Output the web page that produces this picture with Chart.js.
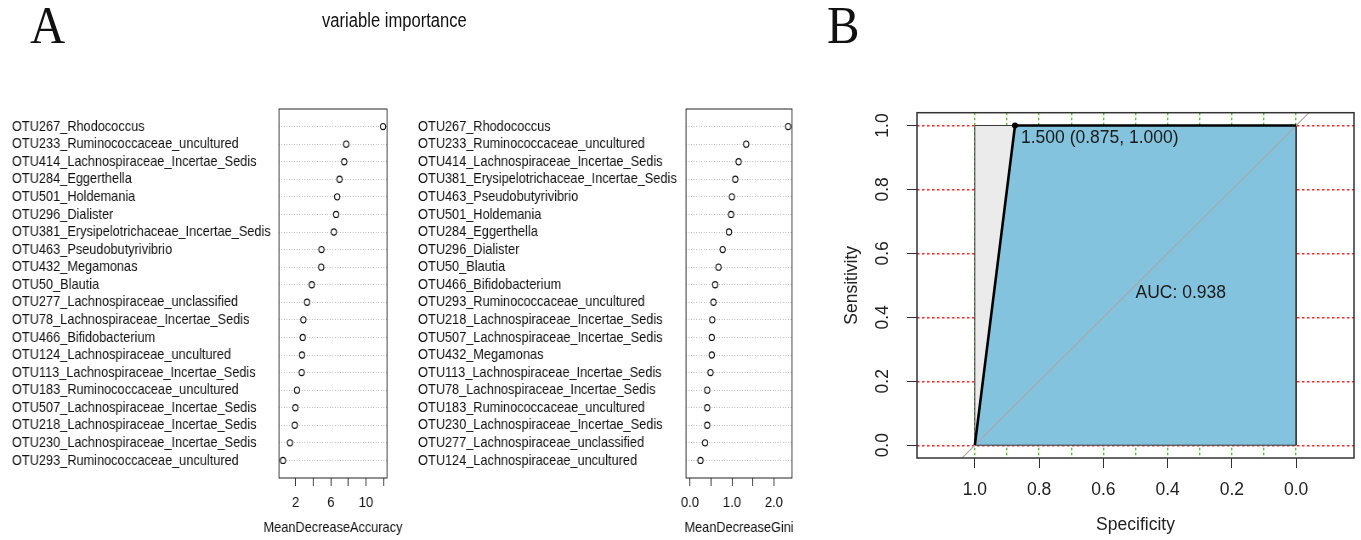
<!DOCTYPE html>
<html><head><meta charset="utf-8">
<script src="https://cdn.jsdelivr.net/npm/chart.js@4.4.0/dist/chart.umd.min.js"></script>
<style>
html,body{margin:0;padding:0;background:#fff;width:1361px;height:540px;overflow:hidden;position:relative;}
.abs{position:absolute;}
#panelA{position:absolute;left:0;top:0;width:960px;height:540px;transform:scaleX(0.85);transform-origin:0 0;}
#c1{left:0;top:60px;}
#c2{left:470px;top:60px;}
#c3{left:830px;top:60px;}
#title{left:0;width:928px;top:9px;line-height:22px;text-align:center;font-size:19.5px;font-family:"Liberation Sans",Arial,sans-serif;color:#111;}
.letter{top:-1px;font-size:53px;line-height:52px;font-family:"Liberation Serif","Times New Roman",serif;color:#111;transform:scaleX(0.92);transform-origin:0 0;}
#letterA{left:30px;}
#letterB{left:827px;}
</style></head><body>
<div class="abs letter" id="letterA">A</div>
<div class="abs letter" id="letterB">B</div>
<div id="panelA">
  <div class="abs" id="title">variable importance</div>
  <canvas class="abs" id="c1" width="500" height="480"></canvas>
  <canvas class="abs" id="c2" width="490" height="480"></canvas>
</div>
<canvas class="abs" id="c3" width="531" height="480"></canvas>
<script>
// ---------------- data ----------------
const accLabels = [
  "OTU267_Rhodococcus","OTU233_Ruminococcaceae_uncultured","OTU414_Lachnospiraceae_Incertae_Sedis",
  "OTU284_Eggerthella","OTU501_Holdemania","OTU296_Dialister","OTU381_Erysipelotrichaceae_Incertae_Sedis",
  "OTU463_Pseudobutyrivibrio","OTU432_Megamonas","OTU50_Blautia","OTU277_Lachnospiraceae_unclassified",
  "OTU78_Lachnospiraceae_Incertae_Sedis","OTU466_Bifidobacterium","OTU124_Lachnospiraceae_uncultured",
  "OTU113_Lachnospiraceae_Incertae_Sedis","OTU183_Ruminococcaceae_uncultured","OTU507_Lachnospiraceae_Incertae_Sedis",
  "OTU218_Lachnospiraceae_Incertae_Sedis","OTU230_Lachnospiraceae_Incertae_Sedis","OTU293_Ruminococcaceae_uncultured"
];
const accValues = [11.94,7.75,7.52,6.99,6.72,6.60,6.34,4.93,4.90,3.83,3.29,2.87,2.80,2.72,2.68,2.15,1.96,1.89,1.35,0.55];
const accTicks = [2,4,6,8,10,12];
const accTickLabels = [2,6,10];

const giniLabels = [
  "OTU267_Rhodococcus","OTU233_Ruminococcaceae_uncultured","OTU414_Lachnospiraceae_Incertae_Sedis",
  "OTU381_Erysipelotrichaceae_Incertae_Sedis","OTU463_Pseudobutyrivibrio","OTU501_Holdemania","OTU284_Eggerthella",
  "OTU296_Dialister","OTU50_Blautia","OTU466_Bifidobacterium","OTU293_Ruminococcaceae_uncultured",
  "OTU218_Lachnospiraceae_Incertae_Sedis","OTU507_Lachnospiraceae_Incertae_Sedis","OTU432_Megamonas",
  "OTU113_Lachnospiraceae_Incertae_Sedis","OTU78_Lachnospiraceae_Incertae_Sedis","OTU183_Ruminococcaceae_uncultured",
  "OTU230_Lachnospiraceae_Incertae_Sedis","OTU277_Lachnospiraceae_unclassified","OTU124_Lachnospiraceae_uncultured"
];
const giniValues = [2.34,1.34,1.16,1.08,1.00,0.98,0.93,0.78,0.68,0.60,0.56,0.53,0.52,0.52,0.49,0.41,0.41,0.41,0.36,0.25];
const giniTicks = [0,0.5,1,1.5,2];
const giniTickLabels = [0,1,2];

const rocSpec = [1, 0.875, 0];
const rocSens = [0, 1, 1];
const thrIndex = 1;
const maxAucSpec = [1, 1, 0, 0];
const maxAucSens = [0, 1, 1, 0];
const chanceSpec = [1.2, -0.2];
const chanceSens = [-0.2, 1.2];
const specGrid = [1, 0.9, 0.8, 0.7, 0.6, 0.5, 0.4, 0.3, 0.2, 0.1, 0];
const specTicks = [1, 0.8, 0.6, 0.4, 0.2, 0];
const sensTicks = [0, 0.2, 0.4, 0.6, 0.8, 1];
const thresholdLabel = "1.500 (0.875, 1.000)";
const aucLabel = "AUC: 0.938";
const aucPos = [0.5, 0.5];

// ---------------- helpers ----------------
const FONT = '"Liberation Sans", Arial, sans-serif';
Chart.defaults.font.family = FONT;
const inList = (list, v) => list.some(t => Math.abs(t - v) < 1e-9);
const frame = (color, w) => ({
  id: 'frame',
  afterDraw(chart) {
    const a = chart.chartArea, c = chart.ctx;
    c.save(); c.strokeStyle = color; c.lineWidth = w;
    c.strokeRect(a.left, a.top, a.right - a.left, a.bottom - a.top);
    c.restore();
  }
});
const xTitle = (text) => ({
  id: 'xTitle',
  afterDraw(chart) {
    const a = chart.chartArea, c = chart.ctx;
    c.save(); c.font = '15px ' + FONT; c.fillStyle = '#111';
    c.textAlign = 'center'; c.textBaseline = 'middle';
    c.fillText(text, (a.left + a.right) / 2, chart.height - 12);
    c.restore();
  }
});
function rRange(vals, lo) {
  const mn = (lo === undefined) ? Math.min(...vals) : lo;
  const mx = Math.max(...vals);
  const d = (mx - mn) * 0.04;
  return [mn - d, mx + d];
}

function dotChart(id, labels, values, range, ticks, tickLabels, fmt, title, padLeft, yWidth, padRight) {
  const data = values.map((v, i) => ({x: v, y: i + 1}));
  return new Chart(document.getElementById(id), {
    type: 'scatter',
    data: {datasets: [{data, pointStyle: 'circle', pointRadius: 3.1, pointBorderWidth: 1.15,
      pointBorderColor: '#111', pointBackgroundColor: '#fff', showLine: false}]},
    options: {
      responsive: false, animation: false, events: [],
      layout: {padding: {left: padLeft, right: padRight, top: 49, bottom: 0}},
      plugins: {legend: {display: false}, tooltip: {enabled: false}, title: {display: false}},
      scales: {
        x: {type: 'linear', min: range[0], max: range[1],
          afterBuildTicks: s => { s.ticks = ticks.map(v => ({value: v})); },
          afterFit: s => { s.height = 62; },
          grid: {drawOnChartArea: false, drawTicks: true, tickLength: 8, tickColor: '#222', tickWidth: 1},
          border: {display: false},
          ticks: {autoSkip: false, maxRotation: 0, minRotation: 0, padding: 7, color: '#111',
            font: {family: FONT, size: 15.5}, callback: v => inList(tickLabels, v) ? fmt(v) : ''}
        },
        y: {type: 'linear', min: 0, max: labels.length + 1, reverse: true,
          afterBuildTicks: s => { s.ticks = labels.map((_, i) => ({value: i + 1})); },
          afterFit: s => { s.width = yWidth; },
          grid: {color: '#b5b5b5', lineWidth: 1, drawTicks: false},
          border: {display: false, dash: [1, 2]},
          ticks: {autoSkip: false, crossAlign: 'far', color: '#111', font: {family: FONT, size: 15},
            callback: v => labels[Math.round(v) - 1]}
        }
      }
    },
    plugins: [frame('#222', 1), xTitle(title)]
  });
}

dotChart('c1', accLabels, accValues, rRange(accValues), accTicks, accTickLabels, v => String(v),
  'MeanDecreaseAccuracy', 14.1, 314.1, 44.7);
dotChart('c2', giniLabels, giniValues, rRange(giniValues, 0), giniTicks, giniTickLabels, v => v.toFixed(1),
  'MeanDecreaseGini', 21.8, 315.3, 28.2);

// ---------------- ROC ----------------
const pts = (xs, ys) => xs.map((x, i) => ({x, y: ys[i]}));
const closed = arr => arr.concat([arr[0]]);
const rocText = {
  id: 'rocText',
  afterDatasetsDraw(chart) {
    const {ctx, scales: {x, y}} = chart;
    ctx.save();
    ctx.font = '17.5px ' + FONT;
    ctx.fillStyle = '#1a1a1a';
    ctx.textAlign = 'left';
    ctx.textBaseline = 'middle';
    const px = x.getPixelForValue(rocSpec[thrIndex]), py = y.getPixelForValue(rocSens[thrIndex]);
    ctx.fillText(thresholdLabel, px + 6, py + 13);
    ctx.fillText(aucLabel, x.getPixelForValue(aucPos[0]), y.getPixelForValue(aucPos[1]) + 8);
    ctx.restore();
  }
};
const X_RANGE = {min: -0.18, max: 1.18};
const Y_RANGE = {min: -0.04, max: 1.04};
new Chart(document.getElementById('c3'), {
  type: 'line',
  data: {datasets: [
    {data: pts(rocSpec, rocSens), borderColor: '#000', borderWidth: 2.6, tension: 0, fill: false,
      pointRadius: c => c.dataIndex === thrIndex ? 3 : 0, pointBackgroundColor: '#000', pointBorderColor: '#000', pointBorderWidth: 0},
    {data: pts(chanceSpec, chanceSens), borderColor: '#a8a8a8', borderWidth: 1.1, pointRadius: 0, fill: false},
    {data: closed(pts(maxAucSpec, maxAucSens)), borderColor: '#3a3a3a', borderWidth: 1, pointRadius: 0, fill: false},
    {data: pts(rocSpec, rocSens), borderWidth: 0, borderColor: 'rgba(0,0,0,0)', pointRadius: 0, fill: 'origin', backgroundColor: '#84C3DD'},
    {data: pts(maxAucSpec, maxAucSens), borderWidth: 0, borderColor: 'rgba(0,0,0,0)', pointRadius: 0, fill: 'origin', backgroundColor: '#EBEBEB'}
  ]},
  options: {
    responsive: false, animation: false, events: [],
    layout: {padding: {left: 0, right: 7, top: 52.7, bottom: 0}},
    plugins: {legend: {display: false}, tooltip: {enabled: false}},
    scales: {
      xg: {type: 'linear', position: 'bottom', reverse: true, ...X_RANGE,
        afterBuildTicks: s => { s.ticks = specGrid.map(v => ({value: v})); },
        afterFit: s => { s.height = 0; },
        grid: {color: '#5fbf30', lineWidth: 1.4, drawTicks: false, drawOnChartArea: true},
        border: {display: false, dash: [2.5, 2.5]},
        ticks: {display: false}
      },
      yg: {type: 'linear', position: 'left', ...Y_RANGE,
        afterBuildTicks: s => { s.ticks = sensTicks.map(v => ({value: v})); },
        afterFit: s => { s.width = 0; },
        grid: {color: '#ff2a2a', lineWidth: 1.4, drawTicks: false, drawOnChartArea: true},
        border: {display: false, dash: [2.5, 2.5]},
        ticks: {display: false}
      },
      x: {type: 'linear', position: 'bottom', reverse: true, ...X_RANGE,
        afterBuildTicks: s => { s.ticks = specTicks.map(v => ({value: v})); },
        afterFit: s => { s.height = 82; },
        grid: {drawOnChartArea: false, drawTicks: true, tickLength: 10, tickWidth: 1, tickColor: '#333'},
        border: {display: false},
        ticks: {autoSkip: false, maxRotation: 0, minRotation: 0, padding: 12, color: '#222',
          font: {family: FONT, size: 17.5}, callback: v => v.toFixed(1)},
        title: {display: true, text: 'Specificity', color: '#222', font: {family: FONT, size: 17.5}, padding: {top: 0, bottom: 4.5}}
      },
      y: {type: 'linear', position: 'left', ...Y_RANGE,
        afterBuildTicks: s => { s.ticks = sensTicks.map(v => ({value: v})); },
        afterFit: s => { s.width = 87; },
        grid: {drawOnChartArea: false, drawTicks: true, tickLength: 10, tickWidth: 1, tickColor: '#333'},
        border: {display: false},
        ticks: {autoSkip: false, minRotation: 90, maxRotation: 90, crossAlign: 'center', padding: 11.5, color: '#222',
          font: {family: FONT, size: 17.5}, callback: v => v.toFixed(1)},
        title: {display: true, text: 'Sensitivity', color: '#222', font: {family: FONT, size: 17.5}, padding: {top: 11.2, bottom: 0}}
      }
    }
  },
  plugins: [rocText, frame('#333', 1.5)]
});
</script>
</body></html>
